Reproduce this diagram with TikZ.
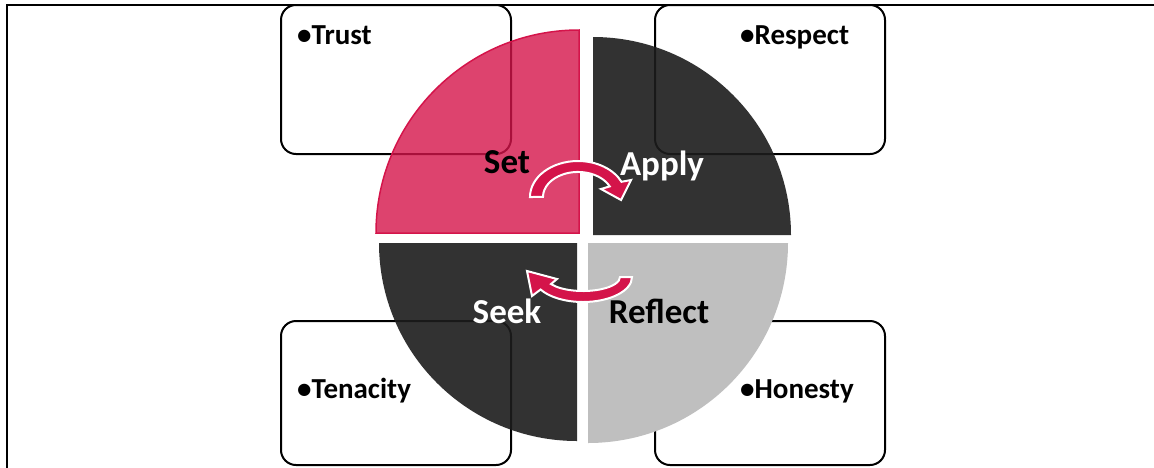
\documentclass[tikz,border=0pt]{standalone}
\usepackage{fontspec}
\setmainfont{Carlito}
\usepackage{xcolor}
\definecolor{crimsonq}{RGB}{212,20,74}
\definecolor{darkq}{RGB}{28,28,28}
\definecolor{lightq}{RGB}{191,191,191}

\begin{document}
\begin{tikzpicture}[x=1pt, y=-1pt,
    box/.style={draw, line width=2pt, rounded corners=15pt, inner sep=0pt, outer sep=0pt, anchor=north west},
    boxtext/.style={anchor=base west, inner sep=0pt, font=\fontsize{29}{31}\selectfont\bfseries},
    quartertext/.style={anchor=base, inner sep=0pt, font=\fontsize{35}{38}\selectfont\bfseries},
    loop/.style={fill=crimsonq, draw=white, line width=2pt, line join=miter}]
        \useasboundingbox (0,0) rectangle (1154,467);
        % Рамка
        \draw[line width=2pt] (7,468) -- (7,5) -- (1155,5);
        % Прямоугольники
        \foreach \name/\x/\y/\h in {trust/281/5/149, respect/655/5/149, tenacity/281/321/144, honesty/655/321/144} {
          \node[box, minimum width=230pt, minimum height=\h pt] (\name) at (\x,\y) {};
        }
        % Четверти круга
        \filldraw[fill=crimsonq, fill opacity=0.8, draw=crimsonq, line width=1.5pt] (579,233) -- (376,233) arc[start angle=180, end angle=270, radius=203] -- cycle;
        \fill[darkq, fill opacity=0.9] (593,235) -- (593,37) arc[start angle=270, end angle=360, radius=198] -- cycle;
        \fill[darkq, fill opacity=0.9] (577,243) -- (577,441) arc[start angle=90, end angle=180, radius=198] -- cycle;
        \fill[lightq] (588,243) -- (788,243) arc[start angle=0, end angle=90, radius=200] -- cycle;
        % Стрелки
        \filldraw[loop] (530,197) arc[start angle=180, end angle=335, x radius=48, y radius=36]
          -- (631,180) -- (621,200) -- (601,189) -- (609.7,186.4)
          arc[start angle=335, end angle=180, x radius=35, y radius=25] -- cycle;
        \filldraw[loop] (632,277) arc[start angle=0, end angle=150, x radius=49, y radius=25]
          -- (532,296) -- (527,271) -- (557,279) -- (551,284)
          arc[start angle=150, end angle=0, x radius=37, y radius=14] -- cycle;
        % Подписи
        \foreach \name/\x/\y/\t in {set/507/173/Set, reflect/659/323/Reflect} {
          \node[quartertext] (\name) at (\x,\y) {\t};
        }
        \foreach \name/\x/\y/\t in {apply/662/175/Apply, seek/507/323/Seek} {
          \node[quartertext, text=white] (\name) at (\x,\y) {\t};
        }
        \node[boxtext] (ltrust) at (297,44) {•Trust};
        \node[boxtext] (lrespect) at (740,44) {•Respect};
        \node[boxtext] (ltenacity) at (297,398) {•Tenacity};
        \node[boxtext] (lhonesty) at (740,398) {•Honesty};
    \end{tikzpicture}
\end{document}
